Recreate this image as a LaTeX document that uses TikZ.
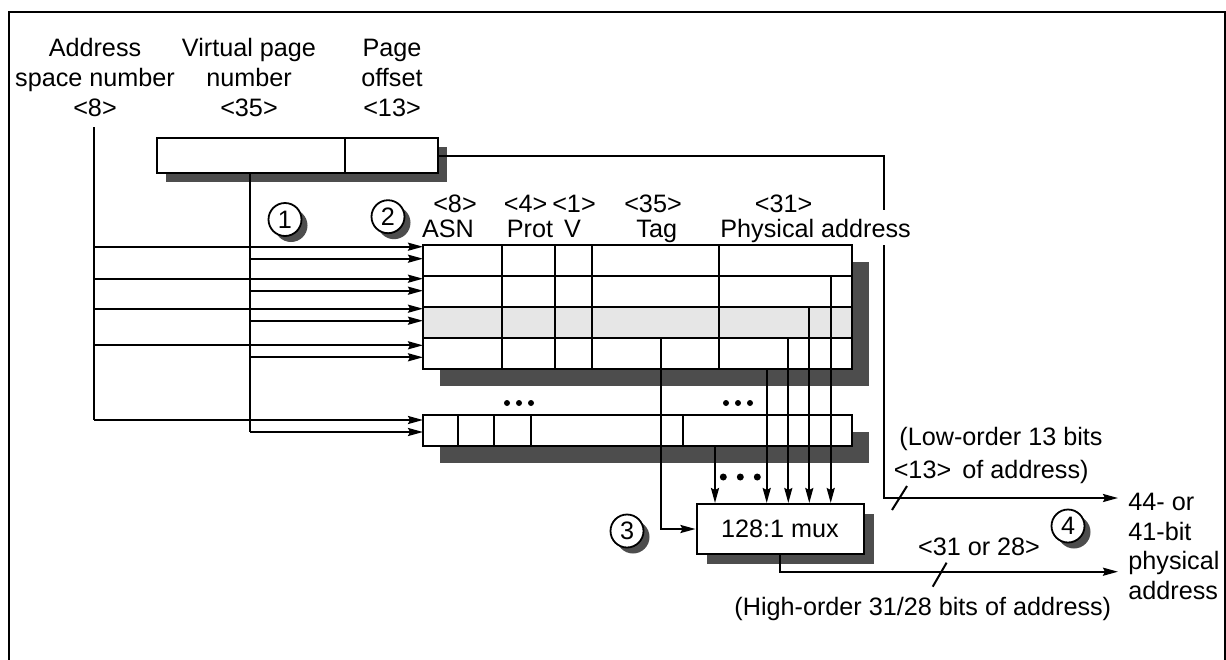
\documentclass[tikz,border=0pt]{standalone}
\usepackage{fontspec}
\setmainfont{Liberation Sans}
\usepackage{tikz}
\usetikzlibrary{arrows.meta,positioning,shadows}
\definecolor{shadowgray}{HTML}{4D4D4D}
\definecolor{rowgray}{HTML}{E6E6E6}

\begin{document}
\begin{tikzpicture}[
  x=0.5pt, y=-0.5pt,
  every node/.style={font=\fontsize{12.6}{15}\selectfont, align=center, inner sep=0pt},
  cell/.style={line width=1pt},
  wire/.style={line width=1pt},
  line/.style={-{Stealth[length=7.5pt, width=4pt, inset=1pt]}, line width=1pt},
  regbox/.style={draw, fill=white, line width=1pt, minimum height=17.5pt, outer sep=0pt,
                 drop shadow={shadow xshift=4.5pt, shadow yshift=-4.5pt, fill=shadowgray, opacity=1}},
  tlbrow/.style={draw, fill=white, line width=1pt, minimum width=214.5pt, minimum height=15.5pt,
                 outer sep=0pt, anchor=north west,
                 drop shadow={shadow xshift=8.5pt, shadow yshift=-8.5pt, fill=shadowgray, opacity=1}},
  muxbox/.style={draw, fill=white, line width=1pt, minimum width=83.5pt, minimum height=25pt,
                 drop shadow={shadow xshift=5pt, shadow yshift=-5pt, fill=shadowgray, opacity=1}},
  num/.style={circle, draw, fill=white, line width=0.9pt, minimum size=16.5pt,
              drop shadow={shadow xshift=3pt, shadow yshift=-3pt, fill=shadowgray, opacity=1}}
]
\useasboundingbox (0,0) rectangle (1226,659);
\draw[line width=0.9pt] (9,12) rectangle (1225,680);

% virtual address fields
\node[anchor=north] (asnlbl) at (95,38.3)  {Address\\space number\\<8>};
\node[anchor=north] (vpnlbl) at (249,38.3) {Virtual page\\number\\<35>};
\node[anchor=north] (offlbl) at (392,38.3) {Page\\offset\\<13>};

\node[regbox, minimum width=140.5pt, anchor=north west] (reg) at (157,138) {};
\draw[cell] (reg.north west) ++(188,0) -- ++(0,35);

\coordinate (asntop) at (94,127);
\coordinate (vpntop) at (250,173);

% TLB column heads
\foreach \xa/\ta/\xb/\tb [count=\i] in {455/<8>/448/ASN, 525.6/<4>/530/Prot,
                                        574/<1>/572.5/V, 653/<35>/656.7/Tag} {
  \node[anchor=base] (bw\i) at (\xa,212) {\ta};
  \node[anchor=base] (hd\i) at (\xb,237) {\tb};
}
\node[anchor=base] (bw5) at (783.6,212) {<31>};
\node[anchor=base west] (hd5) at (720,237) {Physical address};

% TLB entries
\node[tlbrow] (r1) at (423,245) {};
\node[tlbrow, below=0pt of r1] (r2) {};
\node[tlbrow, below=0pt of r2, fill=rowgray] (r3) {};
\node[tlbrow, below=0pt of r3] (r4) {};
\foreach \cx in {502,554.5,591.5,719}
  \draw[cell] (\cx,245) -- (\cx,369);

\node[tlbrow] (rb) at (423,415) {};
\foreach \cx in {458,494.3,530.7,683}
  \draw[cell] (\cx,415) -- (\cx,447);

\foreach \dx in {0,12,24} {
  \fill (507+\dx,403) circle (3);
  \fill (726+\dx,403) circle (3);
}

% ASN and VPN compared in every entry
\foreach \row/\da in {r1/1.7, r2/2.7, r3/1.7, r4/7.3, rb/5} {
  \path (\row.north west) ++(0,\da) coordinate (\row a) ++(0,12) coordinate (\row b);
  \draw[line] (asntop |- \row a) -- (\row a);
  \draw[line] (vpntop |- \row b) -- (\row b);
}
\draw[wire] (asntop) -- (asntop |- rba);
\draw[wire] (vpntop) -- (vpntop |- rbb);

\node[num] (c1) at (285,219.5) {1};
\node[num] (c2) at (388,216.7) {2};

% multiplexer
\node[muxbox] (mux) at (780,529) {128:1 mux};
\node[num] (c3) at (627,531) {3};

\coordinate (tg) at (660.5,338);
\coordinate (p1) at (830.7,276);
\coordinate (p2) at (809.3,307);
\coordinate (p3) at (788.3,338);
\coordinate (p4) at (766.7,369);
\coordinate (pb) at (715,447);
\draw[line] (tg) |- (mux.west);
\foreach \p in {p1,p2,p3,p4,pb}
  \draw[line] (\p) -- (\p |- mux.north);
\foreach \dx in {0,17,34}
  \fill (723.3+\dx,477) circle (3.5);

% physical address out
\coordinate (gaptop) at (884,210);
\coordinate (gapbot) at (884,245);
\coordinate (loend) at (1118,498);
\coordinate (hiend) at (1118,571.7);
\draw[wire] (reg.east) -| (gaptop);
\draw[line] (gapbot) |- (loend);
\draw[line] (mux.south) |- (hiend);

\draw[wire] (907,486) -- (892,510);
\draw[wire] (946.6,562.7) -- (932.7,586.7);
\node[anchor=base] (lo1) at (1001,445) {(Low-order 13 bits};
\node[anchor=base] (lo2) at (1025.5,478) {of address)};
\node[anchor=base] (w13) at (922.5,478) {<13>};
\node[anchor=base] (w31) at (979,555) {<31 or 28>};
\node[anchor=base] (hi) at (922.8,615) {(High-order 31/28 bits of address)};
\node[num] (c4) at (1068,526) {4};
\node[anchor=north west, align=left, font=\fontsize{12.6}{14.75}\selectfont] (pa) at (1128,493)
  {44- or\\41-bit\\physical\\address};
\end{tikzpicture}
\end{document}
